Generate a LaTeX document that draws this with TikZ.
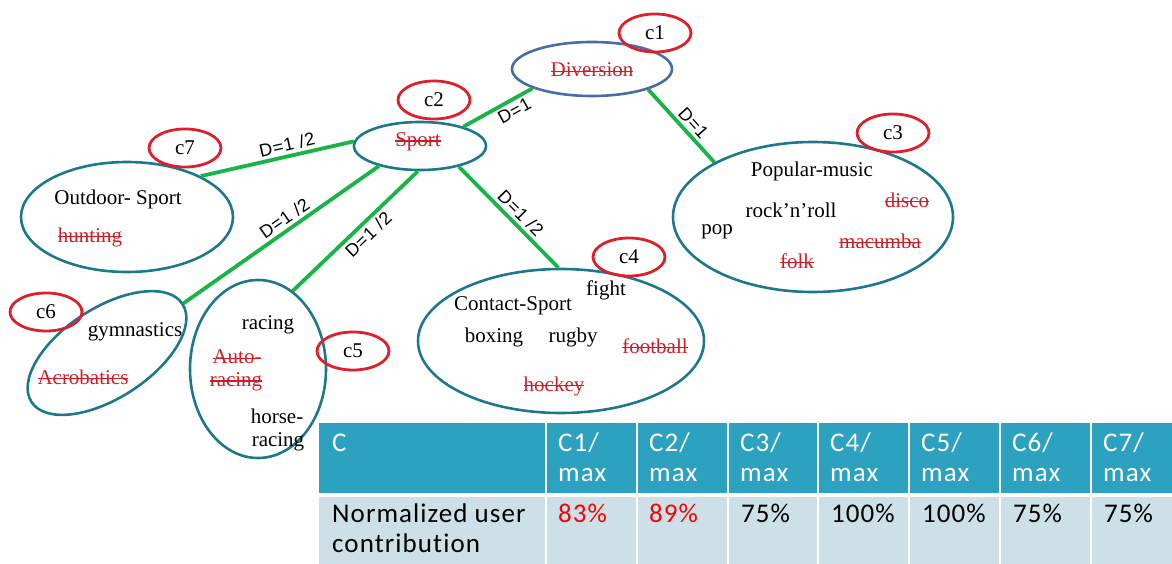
\documentclass[tikz,border=0pt]{standalone}
\usepackage{fontspec}
\setmainfont{Liberation Serif}
\newfontfamily\labfont[LetterSpace=4]{Liberation Sans}
\newfontfamily\tabfont[LetterSpace=4,Ligatures={NoCommon}]{Carlito}
\newlength\stlen
\newcommand\strk[1]{\settowidth{\stlen}{#1}\rlap{\rule[0.24em]{\stlen}{1.2pt}}#1}
\usetikzlibrary{shapes.geometric}
\definecolor{tealE}{RGB}{30,120,140}
\definecolor{divblue}{RGB}{72,108,170}
\definecolor{cred}{RGB}{222,32,44}
\definecolor{tred}{RGB}{205,30,40}
\definecolor{egreen}{RGB}{24,180,72}
\definecolor{hdr}{RGB}{44,162,192}
\definecolor{rowc}{RGB}{206,224,231}
\definecolor{vred}{RGB}{255,0,0}
\tikzset{
  cl/.style={ellipse, draw=cred, line width=2.8pt, minimum width=72, minimum height=38, inner sep=0, font=\fontsize{21}{24}\selectfont},
  grp/.style={ellipse, draw=tealE, line width=2.6pt, inner sep=0},
  link/.style={draw=egreen, line width=3.8pt},
  dl/.style={font=\labfont\fontsize{18}{20}\selectfont, sloped, inner sep=3pt, text=black},
  tx/.style={font=\fontsize{21}{24}\selectfont, inner sep=0, text=black},
  st/.style={font=\fontsize{21}{24}\selectfont, inner sep=0, text=tred},
  hd/.style={font=\tabfont\fontsize{27}{30}\selectfont, inner sep=0, text=white, anchor=base west},
  rw/.style={font=\tabfont\fontsize{27}{30}\selectfont, inner sep=0, text=black, anchor=base west},
}
\begin{document}
\begin{tikzpicture}[x=1pt,y=-1pt]
\useasboundingbox (0,0) rectangle (1172,564);
% group ellipses
\node[grp, draw=divblue, minimum width=160, minimum height=54] (div) at (592,69) {};
\node[grp, minimum width=132, minimum height=48] (sport) at (420,146) {};
\node[grp, minimum width=280, minimum height=150] (pop) at (813,217) {};
\node[grp, minimum width=212, minimum height=110] (out) at (127,217) {};
\node[grp, minimum width=180, minimum height=90, rotate=33] (gym) at (107,353) {};
\node[grp, minimum width=136, minimum height=178] (rac) at (258,369) {};
\node[grp, minimum width=286, minimum height=144] (con) at (561,341) {};
% connectors
\draw[link] (sport.24) -- node[dl, below, pos=.66] {D=1} (div.198);
\draw[link] (div.-20) -- node[dl, above, pos=.56] {D=1} (pop.151);
\draw[link] (out.29) -- node[dl, above, pos=.58] {D=1 /2} (sport.176);
\draw[link] (gym.0) -- node[dl, above, pos=.55] {D=1 /2} (sport.206);
\draw[link] (rac.66) -- node[dl, below, pos=.54] {D=1 /2} (sport.265);
\draw[link] (sport.-28) -- node[dl, above, pos=.54] {D=1 /2} (con.92);
% texts
\node[st] (tdiv) at (592,70) {\strk{Diversion}};
\node[st] (tsport) at (418,142) {\strk{Sport}};
\node[tx] (tpm) at (812,171) {Popular-music};
\node[tx] (trr) at (791,210) {rock’n’roll};
\node[tx] (tpop) at (717,232) {pop};
\node[st] (tdisco) at (907,200) {\strk{disco}};
\node[st] (tmac) at (880,241) {\strk{macumba}};
\node[st] (tfolk) at (797,261) {\strk{folk}};
\node[tx] (tout) at (118,199) {Outdoor- Sport};
\node[st] (thunt) at (90,237) {\strk{hunting}};
\node[tx] (tgym) at (135,332) {gymnastics};
\node[st] (tacro) at (83,377) {\strk{Acrobatics}};
\node[tx] (trac1) at (268,325) {racing};
\node[st] (tauto) at (237,357) {\strk{Auto-}};
\node[st] (trac2) at (236,382) {\strk{racing}};
\node[tx] (thorse) at (277,416) {horse-};
\node[tx] (trac3) at (278,442) {racing};
\node[tx] (tfight) at (606,290) {fight};
\node[tx] (tcs) at (513,306) {Contact-Sport};
\node[tx] (tbox) at (494,337) {boxing};
\node[tx] (trug) at (573,337) {rugby};
\node[st] (tfoot) at (655,346) {\strk{football}};
\node[st] (thock) at (554,386) {\strk{hockey}};
% red labels
\node[cl] (c1) at (655,33) {c1};
\node[cl] (c2) at (434,100) {c2};
\node[cl] (c3) at (893,133) {c3};
\node[cl] (c4) at (629,257) {c4};
\node[cl] (c5) at (353,351) {c5};
\node[cl] (c6) at (46,312) {c6};
\node[cl] (c7) at (185,148) {c7};
% table
\fill[hdr] (319,423) rectangle (545,493);
\fill[rowc] (319,497) rectangle (545,564);
\foreach \l/\r in {547/636,638/727,729/817,819/908,910/999,1001/1090,1092/1172}{
  \fill[hdr] (\l,423) rectangle (\r,493);
  \fill[rowc] (\l,497) rectangle (\r,564);
}
\node[hd] (h0) at (332,451) {C};
\foreach \l/\n in {547/1,638/2,729/3,819/4,910/5,1001/6,1092/7}{
  \node[hd] (h\n a) at (\l+11,451) {C\n/};
  \node[hd] (h\n b) at (\l+11,481) {max};
}
\node[rw] (r0a) at (332,522) {Normalized user};
\node[rw] (r0b) at (332,552) {contribution};
\node[rw, text=vred] (v1) at (558,522) {83\%};
\node[rw, text=vred] (v2) at (649,522) {89\%};
\node[rw] (v3) at (741,522) {75\%};
\node[rw] (v4) at (831,522) {100\%};
\node[rw] (v5) at (922,522) {100\%};
\node[rw] (v6) at (1013,522) {75\%};
\node[rw] (v7) at (1104,522) {75\%};
\end{tikzpicture}
\end{document}
